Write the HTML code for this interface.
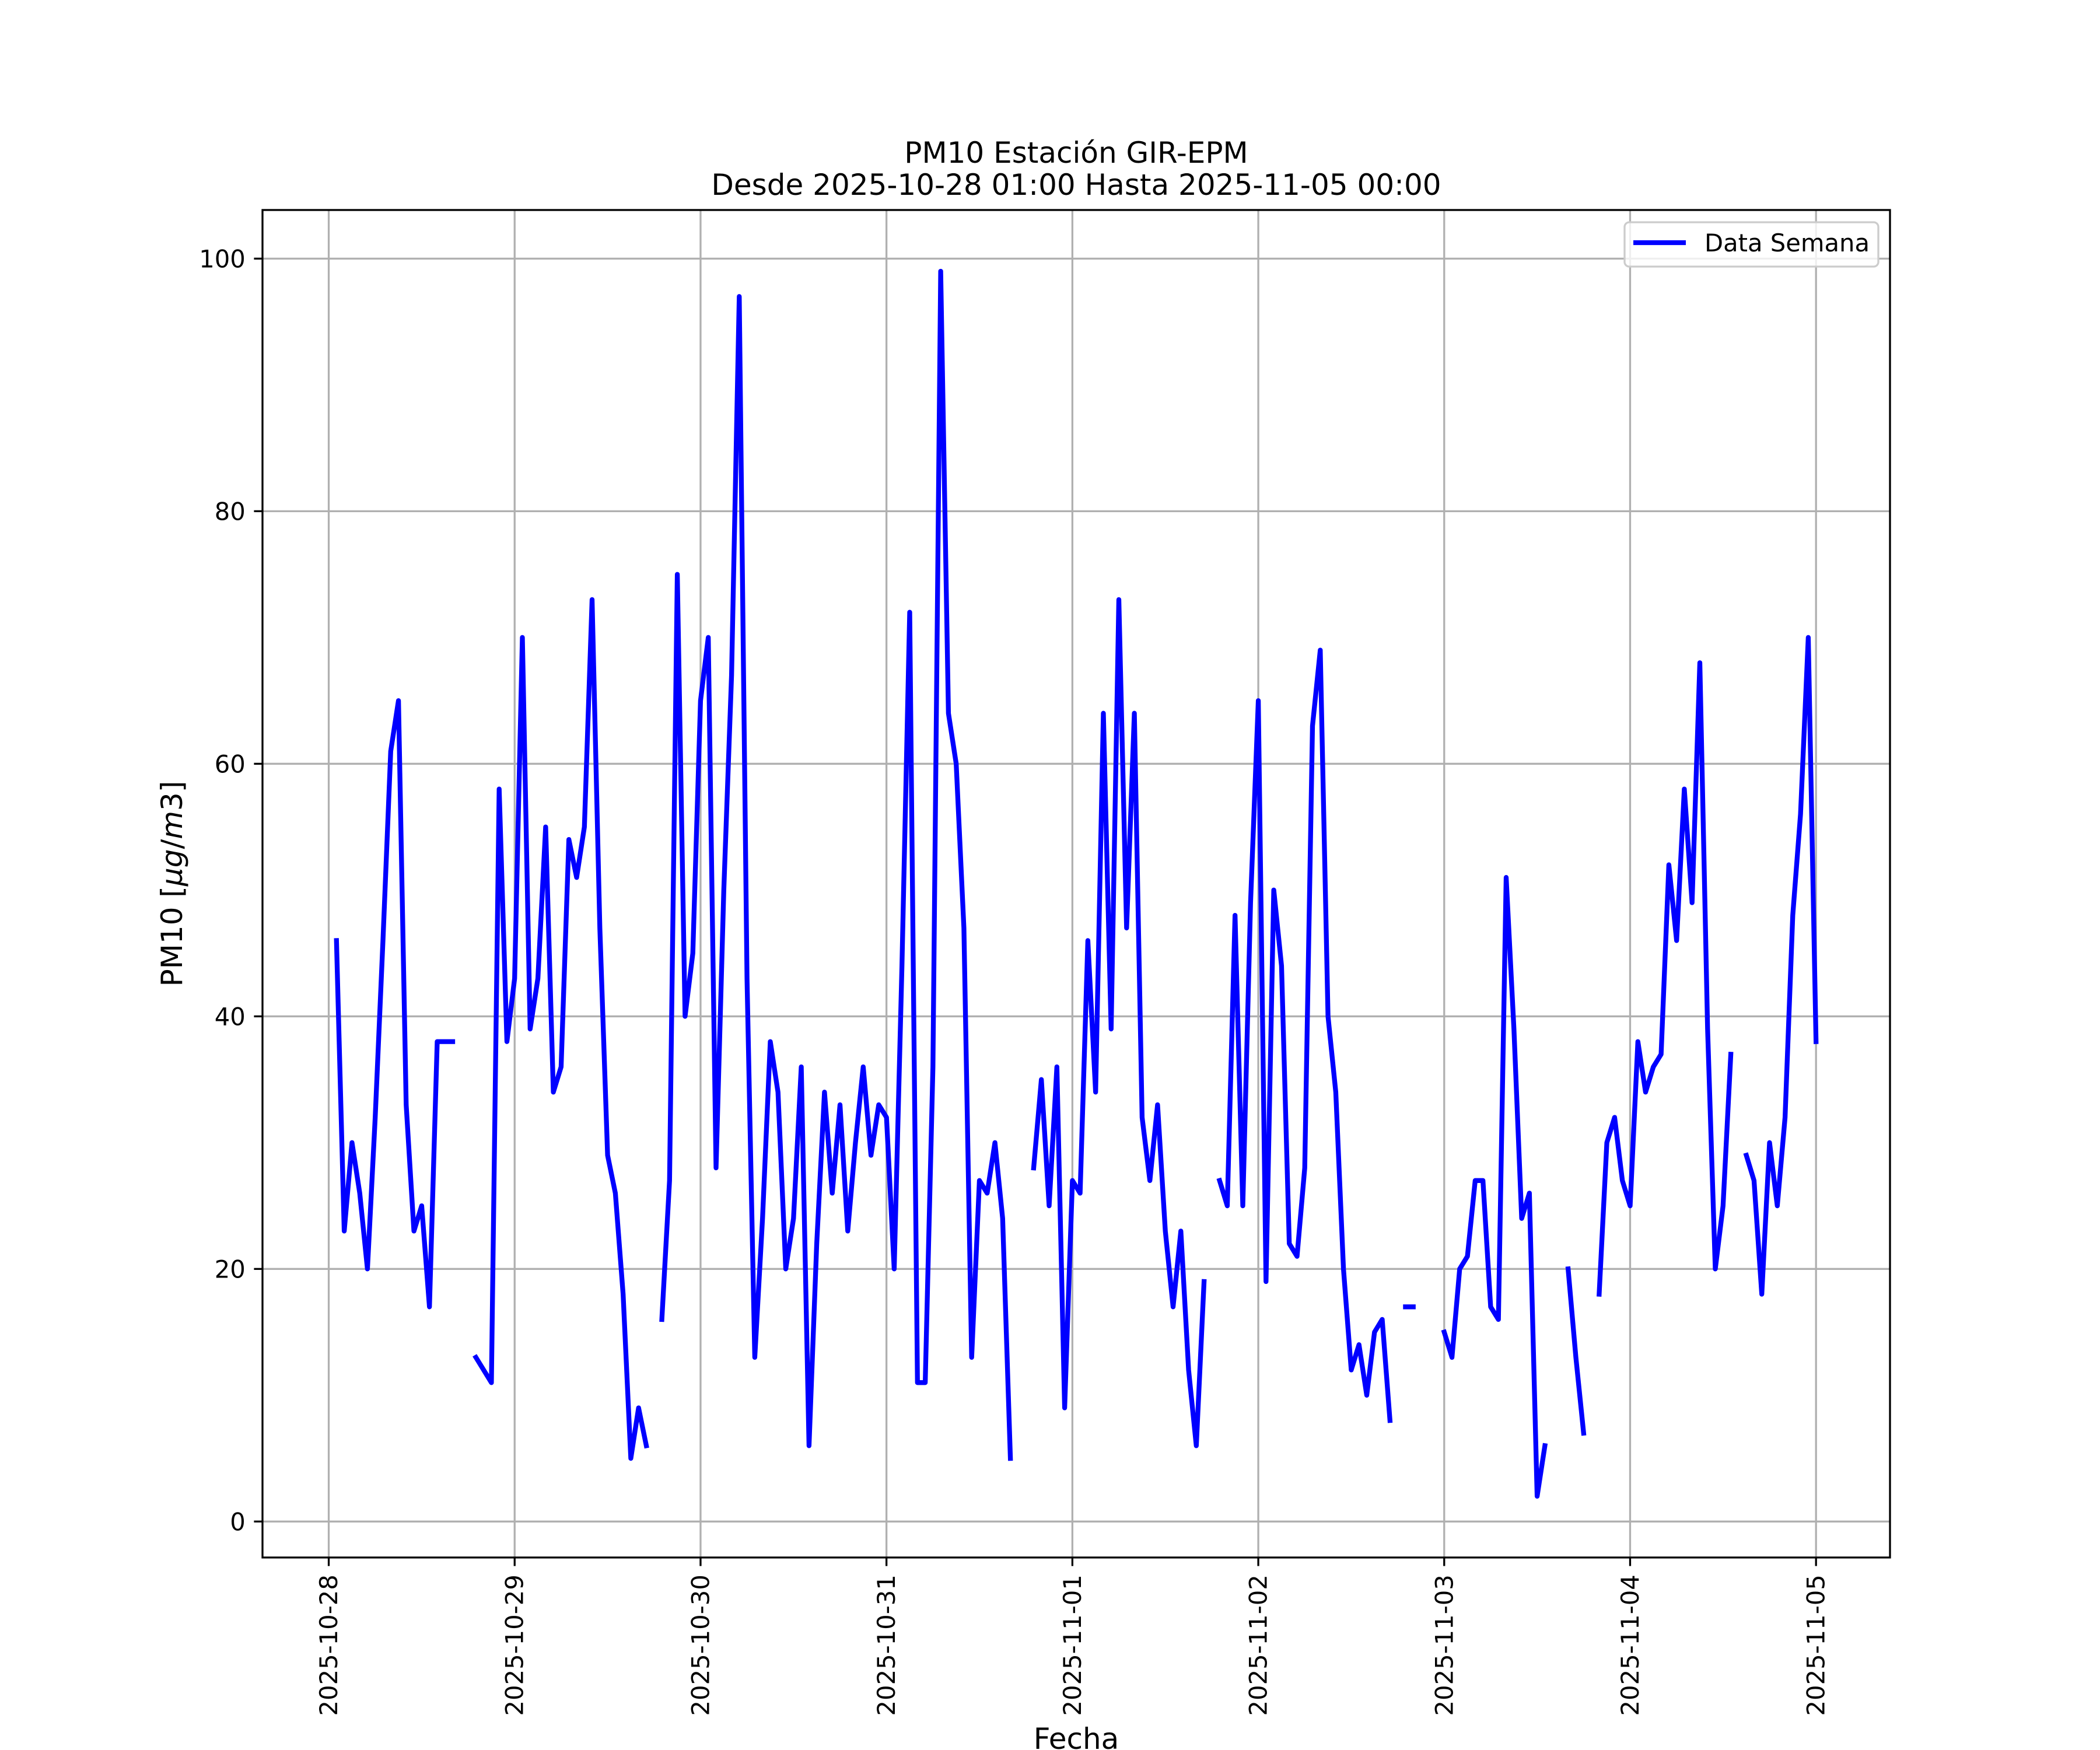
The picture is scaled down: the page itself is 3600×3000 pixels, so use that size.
<!DOCTYPE html>
<html>
<head>
<meta charset="utf-8">
<style>
  html, body { margin: 0; padding: 0; background: #fff; }
  svg { display: block; }
  text { font-family: "DejaVu Sans", "Liberation Sans", sans-serif; fill: #000; }
</style>
</head>
<body>
<svg id="chart" width="3600" height="3000" viewBox="0 0 3600 3000" xmlns="http://www.w3.org/2000/svg">
  <rect x="0" y="0" width="3600" height="3000" fill="#fff"/>
  <g id="grid"></g>
  <g id="series"></g>
  <rect x="450" y="360" width="2790" height="2310" fill="none" stroke="#000" stroke-width="3.3"/>
  <g id="ticks"></g>
  <text x="1845" y="279" font-size="50" text-anchor="middle">PM10 Estación GIR-EPM</text>
  <text x="1845" y="334" font-size="50" text-anchor="middle">Desde 2025-10-28 01:00 Hasta 2025-11-05 00:00</text>
  <text transform="translate(312,1515) rotate(-90)" font-size="50" text-anchor="middle">PM10 [<tspan font-style="italic">μg</tspan>/<tspan font-style="italic">m</tspan>3]</text>
  <text x="1845" y="2998" font-size="50" text-anchor="middle">Fecha</text>
  <g>
    <rect x="2785" y="381" width="435" height="76" rx="8" ry="8" fill="#fff" fill-opacity="0.8" stroke="#cccccc" stroke-width="3.3"/>
    <line x1="2800" y1="416" x2="2890" y2="416" stroke="#0000ff" stroke-width="8.3"/>
    <text x="2922" y="431" font-size="41.7">Data Semana</text>
  </g>
</svg>
<script>
// Hourly PM10 values from 2025-10-28 01:00 (hour offset 1) to 2025-11-05 00:00 (hour offset 192)
const startHour = 1;
const values = [
  46,23,30,26,20,32,46,61,65,33,23,25,17,38,38,38,
  null,null,
  13,12,11,58,38,43,70,39,43,55,34,36,54,51,55,73,47,29,26,18,5,9,6,
  null,
  16,27,75,40,45,65,70,28,50,67,97,43,13,24,38,34,20,24,36,6,22,34,26,33,23,30,36,29,33,32,20,44,72,11,11,36,99,64,60,47,13,27,26,30,24,5,
  null,null,
  28,35,25,36,9,27,26,46,34,64,39,73,47,64,32,27,33,23,17,23,12,6,19,
  null,
  27,25,48,25,49,65,19,50,44,22,21,28,63,69,40,34,20,12,14,10,15,16,8,
  null,
  17,17,
  null,null,null,
  15,13,20,21,27,27,17,16,51,39,24,26,2,6,
  null,null,
  20,13,7,
  null,
  18,30,32,27,25,38,34,36,37,52,46,58,49,68,39,20,25,37,
  null,
  29,27,18,30,25,32,48,56,70,38
];
const xTickLabels = ["2025-10-28","2025-10-29","2025-10-30","2025-10-31","2025-11-01","2025-11-02","2025-11-03","2025-11-04","2025-11-05"];
const xTickHours = [0,24,48,72,96,120,144,168,192];
const yTickValues = [0,20,40,60,80,100];

const NS = "http://www.w3.org/2000/svg";
const AX = {left:450, top:360, width:2790, height:2310};
const hours = values.map((v,i)=>startHour+i);
const hMin = hours[0], hMax = hours[hours.length-1];
const xPad = (hMax-hMin)*0.05;
const xLo = hMin-xPad, xHi = hMax+xPad;
const nums = values.filter(v=>v!==null);
const vMin = Math.min(...nums), vMax = Math.max(...nums);
const yPad = (vMax-vMin)*0.05;
const yLo = vMin-yPad, yHi = vMax+yPad;
function xScale(h){ return AX.left + (h-xLo)/(xHi-xLo)*AX.width; }
function yScale(v){ return AX.top + AX.height - (v-yLo)/(yHi-yLo)*AX.height; }

function mk(tag, attrs, parent){
  const el = document.createElementNS(NS, tag);
  for (const k in attrs) el.setAttribute(k, attrs[k]);
  parent.appendChild(el);
  return el;
}
const grid = document.getElementById('grid');
const ticks = document.getElementById('ticks');
const series = document.getElementById('series');

xTickHours.forEach((h,i)=>{
  const x = xScale(h);
  const g = mk('line',{x1:x,y1:AX.top,x2:x,y2:AX.top+AX.height,stroke:'#b0b0b0','stroke-width':3.3},grid);
  
  
  const t = mk('line',{x1:x,y1:AX.top+AX.height,x2:x,y2:AX.top+AX.height+14.6,stroke:'#000','stroke-width':3.3},ticks);
  
  
  const ly = AX.top+AX.height+14.6+14.6;
  const lab = mk('text',{x:0,y:0,'font-size':41.7,'text-anchor':'end','dominant-baseline':'central',transform:`translate(${x},${ly}) rotate(-90)`},ticks);
  
  
  lab.textContent = xTickLabels[i];
});
yTickValues.forEach(v=>{
  const y = yScale(v);
  const g = mk('line',{x1:AX.left,y1:y,x2:AX.left+AX.width,y2:y,stroke:'#b0b0b0','stroke-width':3.3},grid);
  
  
  const t = mk('line',{x1:AX.left-14.6,y1:y,x2:AX.left,y2:y,stroke:'#000','stroke-width':3.3},ticks);
  
  
  const lab = mk('text',{x:AX.left-14.6-14.6,y:y+15,'font-size':41.7,'text-anchor':'end'},ticks);
  
  
  lab.textContent = String(v);
});

// line segments split at missing values
let seg = [];
const segs = [];
values.forEach((v,i)=>{
  if (v===null){ if(seg.length) segs.push(seg); seg=[]; }
  else seg.push([xScale(hours[i]), yScale(v)]);
});
if (seg.length) segs.push(seg);
const clip = mk('clipPath',{id:'axclip'},document.getElementById('chart'));
mk('rect',{x:AX.left,y:AX.top,width:AX.width,height:AX.height},clip);
segs.forEach(s=>{
  const d = s.map((p,j)=>(j?'L':'M')+p[0].toFixed(1)+','+p[1].toFixed(1)).join(' ');
  const p = mk('path',{d:d,fill:'none',stroke:'#0000ff','stroke-width':8.3,'stroke-linejoin':'round','stroke-linecap':'square','clip-path':'url(#axclip)'},series);
  
  
});
</script>
</body>
</html>
